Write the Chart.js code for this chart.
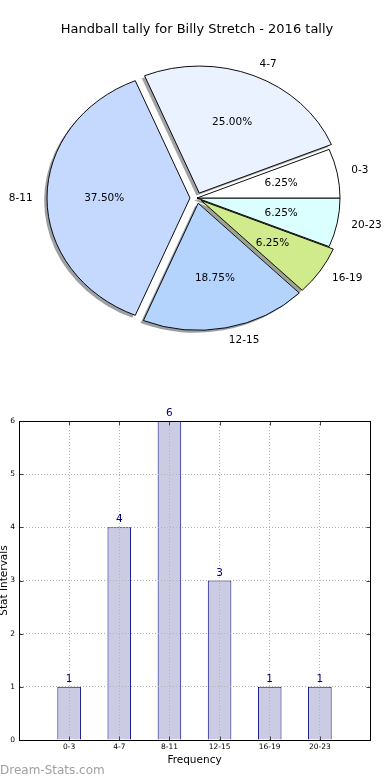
<!DOCTYPE html>
<html><head><meta charset="utf-8">
<script src="https://cdn.jsdelivr.net/npm/chart.js@4.4.1/dist/chart.umd.min.js"></script>
<style>
html,body{margin:0;padding:0;background:#fff;width:390px;height:780px;overflow:hidden;position:relative}
canvas{position:absolute;left:0}
#pie{top:0}
#bar{top:380px}
#wm{position:absolute;left:0;top:763px;font:12px 'DejaVu Sans',sans-serif;color:#a0a0a0;white-space:nowrap}
</style></head><body>
<canvas id="pie" width="390" height="370"></canvas>
<canvas id="bar" width="390" height="400"></canvas>
<div id="wm">Dream-Stats.com</div>
<script>
// ---- data ----
const categories = ['0-3', '4-7', '8-11', '12-15', '16-19', '20-23'];
const counts = [1, 4, 6, 3, 1, 1];
const yTickValues = [0, 1, 2, 3, 4, 5, 6];
const titleText = 'Handball tally for Billy Stretch - 2016 tally';
const xTitle = 'Frequency';
const yTitle = 'Stat Intervals';

// ---- styles ----
const FONT = "'DejaVu Sans', sans-serif";
const sliceColors = ['#ffffff', '#eaf1ff', '#c5d9fe', '#b4d4fe', '#d0eb8c', '#dafffe'];
const explodePx = [0, 6, 7, 6, 5, 0];
const PIE_R = 143;
const Y_SCALE = 127 / 143;
const SHADOW_DX = -0.02 * PIE_R, SHADOW_DY = 0.02 * PIE_R;

// matplotlib draws counter-clockwise from 3 o'clock; Chart.js draws clockwise -> reverse
const order = categories.map((_, i) => categories.length - 1 - i);
const pieLabels = order.map(i => categories[i]);
const pieValues = order.map(i => counts[i]);
const pieColors = order.map(i => sliceColors[i]);
const pieExplode = order.map(i => explodePx[i]);
const total = counts.reduce((a, b) => a + b, 0);

function shadowColor(hex) {
  const r = parseInt(hex.slice(1, 3), 16), g = parseInt(hex.slice(3, 5), 16), b = parseInt(hex.slice(5, 7), 16);
  return `rgba(${Math.round(r * 0.3)},${Math.round(g * 0.3)},${Math.round(b * 0.3)},0.5)`;
}
function centerOf(chart) {
  const a = chart.chartArea;
  return { cx: (a.left + a.right) / 2, cy: (a.top + a.bottom) / 2 };
}

const pieFx = {
  id: 'pieFx',
  afterDatasetsUpdate(chart) {
    const { cx, cy } = centerOf(chart);
    chart.getDatasetMeta(0).data.forEach((el, i) => {
      const mid = (el.startAngle + el.endAngle) / 2;
      el.x = cx + pieExplode[i] * Math.cos(mid);
      el.y = cy + pieExplode[i] * Math.sin(mid);
    });
  },
  beforeDatasetsDraw(chart) {
    const ctx = chart.ctx;
    const { cx, cy } = centerOf(chart);
    ctx.save();
    ctx.translate(cx, cy); ctx.scale(1, Y_SCALE); ctx.translate(-cx, -cy);
    chart.getDatasetMeta(0).data.forEach((el, i) => {
      const x = el.x + SHADOW_DX, y = el.y + SHADOW_DY;
      ctx.beginPath();
      ctx.moveTo(x, y);
      ctx.arc(x, y, el.outerRadius, el.startAngle, el.endAngle);
      ctx.closePath();
      ctx.fillStyle = shadowColor(pieColors[i]);
      ctx.fill();
    });
  },
  afterDatasetsDraw(chart) {
    const ctx = chart.ctx;
    ctx.restore();
    const { cx, cy } = centerOf(chart);
    const mapY = yy => cy + (yy - cy) * Y_SCALE;
    ctx.save();
    ctx.font = '10.5px ' + FONT;
    ctx.fillStyle = '#000';
    ctx.textBaseline = 'middle';
    chart.getDatasetMeta(0).data.forEach((el, i) => {
      const mid = (el.startAngle + el.endAngle) / 2;
      const c = Math.cos(mid), s = Math.sin(mid);
      const lx = el.x + 1.1 * el.outerRadius * c, ly = mapY(el.y + 1.1 * el.outerRadius * s);
      ctx.textAlign = c > 0 ? 'left' : 'right';
      ctx.fillText(pieLabels[i], lx, ly);
      const px = el.x + 0.6 * el.outerRadius * c, py = mapY(el.y + 0.6 * el.outerRadius * s);
      ctx.textAlign = 'center';
      ctx.fillText((pieValues[i] / total * 100).toFixed(2) + '%', px, py);
    });
    ctx.restore();
  }
};

new Chart(document.getElementById('pie'), {
  type: 'pie',
  data: {
    labels: pieLabels,
    datasets: [{
      data: pieValues,
      backgroundColor: pieColors,
      borderColor: '#000',
      borderWidth: 1,
      borderJoinStyle: 'miter',
      clip: false
    }]
  },
  options: {
    responsive: false,
    animation: false,
    events: [],
    rotation: 90,
    radius: PIE_R,
    layout: { padding: { left: 4, right: 0, top: 0, bottom: 11.6 } },
    plugins: {
      legend: { display: false },
      tooltip: { enabled: false },
      title: {
        display: true, text: titleText, color: '#000',
        font: { family: FONT, size: 13, weight: 'normal', lineHeight: 1.2 },
        padding: { top: 22, bottom: 0 }
      }
    }
  },
  plugins: [pieFx]
});

// ---- bar chart ----
const barFx = {
  id: 'barFx',
  afterDraw(chart) {
    const ctx = chart.ctx;
    const a = chart.chartArea;
    const L = Math.round(a.left) + 0.5, T = Math.round(a.top) + 0.5, R = Math.round(a.right) + 0.5, B = Math.round(a.bottom) + 0.5;
    ctx.save();
    // inward tick marks
    ctx.strokeStyle = '#444'; ctx.lineWidth = 1;
    const xs = chart.scales.x, ys = chart.scales.y;
    ctx.beginPath();
    xs.ticks.forEach(t => {
      const px = Math.round(xs.getPixelForValue(t.value)) + 0.5;
      ctx.moveTo(px, B); ctx.lineTo(px, B - 4);
      ctx.moveTo(px, T); ctx.lineTo(px, T + 4);
    });
    ys.ticks.forEach(t => {
      const py = Math.round(ys.getPixelForValue(t.value)) + 0.5;
      ctx.moveTo(L, py); ctx.lineTo(L + 4, py);
      ctx.moveTo(R, py); ctx.lineTo(R - 4, py);
    });
    ctx.stroke();
    ctx.strokeStyle = '#000';
    ctx.strokeRect(L, T, R - L, B - T);
    // value labels
    ctx.fillStyle = '#000080';
    ctx.font = '10.5px ' + FONT;
    ctx.textAlign = 'center';
    ctx.textBaseline = 'alphabetic';
    chart.getDatasetMeta(0).data.forEach((el, i) => {
      ctx.fillText(String(counts[i]), el.x, el.y - 5);
    });
    ctx.restore();
  }
};

new Chart(document.getElementById('bar'), {
  type: 'bar',
  data: {
    datasets: [{
      data: counts.map((v, i) => ({ x: i + 1, y: v })),
      backgroundColor: '#cbcbe3',
      borderColor: '#000080',
      borderWidth: 1,
      barPercentage: 0.47,
      categoryPercentage: 1
    }]
  },
  options: {
    responsive: false,
    animation: false,
    events: [],
    layout: { padding: { top: 41, right: 20, left: 0, bottom: 0 } },
    plugins: { legend: { display: false }, tooltip: { enabled: false } },
    scales: {
      x: {
        type: 'linear', min: 0, max: categories.length + 1, offset: false,
        afterFit: s => { s.height = 40; },
        ticks: {
          stepSize: 1, autoSkip: false, maxRotation: 0, padding: 3, color: '#000',
          font: { family: FONT, size: 7.5 },
          callback: v => categories[v - 1] ?? ''
        },
        grid: { offset: false, color: '#b4b4b4', z: 1, drawTicks: false, lineWidth: 1 },
        border: { display: true, color: '#000', dash: [1, 2], z: 1 },
        title: { display: true, text: xTitle, color: '#000', font: { family: FONT, size: 10.5, lineHeight: 1.2 }, padding: { top: 0, bottom: 13 } }
      },
      y: {
        min: yTickValues[0], max: yTickValues[yTickValues.length - 1],
        afterFit: s => { s.width = 19; },
        afterBuildTicks: s => { s.ticks = yTickValues.map(v => ({ value: v })); },
        ticks: { padding: 4, color: '#000', font: { family: FONT, size: 7.5 } },
        grid: { color: '#b4b4b4', z: 1, drawTicks: false, lineWidth: 1 },
        border: { display: true, color: '#000', dash: [1, 2], z: 1 },
        title: { display: true, text: yTitle, color: '#000', font: { family: FONT, size: 10.5, lineHeight: 1 }, padding: { top: -1, bottom: 0 } }
      }
    }
  },
  plugins: [barFx]
});
</script>
</body></html>
